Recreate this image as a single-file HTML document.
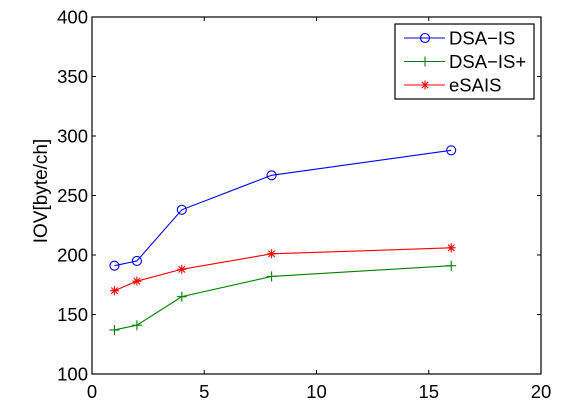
<!DOCTYPE html>
<html><head><meta charset="utf-8"><style>
body{margin:0;background:#fff}
svg{display:block;font-family:"Liberation Sans",sans-serif}
</style></head><body>
<svg id="chart" width="586" height="418" xmlns="http://www.w3.org/2000/svg">
<rect x="0" y="0" width="586" height="418" fill="#fff"/>
<g id="axes"></g>
<g id="series"></g>
<g id="legend"></g>
</svg>
<script>
const xValues=[1,2,4,8,16];
const dsaIS=[191,195,238,267,288];
const dsaISPlus=[137,141,165,182,191];
const esais=[170,178,188,201,206];
const xTicks=[0,5,10,15,20];
const yTicks=[100,150,200,250,300,350,400];
const seriesNames=["DSA\u2212IS","DSA\u2212IS+","eSAIS"];

const L=92,R=541,T=17,B=374;
const sx=v=>L+(v-0)/(20-0)*(R-L);
const sy=v=>B-(v-100)/(400-100)*(B-T);
const NS="http://www.w3.org/2000/svg";
function mk(tag,attrs,parent){const e=document.createElementNS(NS,tag);for(const k in attrs)e.setAttribute(k,attrs[k]);parent.appendChild(e);return e;}
const axes=document.getElementById('axes');
const box=mk('rect',{x:L,y:T,width:R-L,height:B-T,fill:'none',stroke:'#000','stroke-width':1.2},axes);


xTicks.forEach(t=>{
 const x=sx(t);
 mk('line',{x1:x,y1:B,x2:x,y2:B-4,stroke:'#000'},axes);
 mk('line',{x1:x,y1:T,x2:x,y2:T+4,stroke:'#000'},axes);
 const tx=mk('text',{x:x,y:398,'text-anchor':'middle','font-size':18.5},axes);
 tx.textContent=t;
 
 
});
yTicks.forEach(t=>{
 const y=sy(t);
 mk('line',{x1:L,y1:y,x2:L+4,y2:y,stroke:'#000'},axes);
 mk('line',{x1:R,y1:y,x2:R-4,y2:y,stroke:'#000'},axes);
 const tx=mk('text',{x:L-4,y:y+6.5,'text-anchor':'end','font-size':18.5},axes);
 tx.textContent=t;
 
 
});
const yl=mk('text',{x:0,y:0,transform:'translate(47,191) rotate(-90)','text-anchor':'middle','font-size':19},axes);
yl.textContent='IOV[byte/ch]';



function marker(kind,x,y,color,g){
 if(kind==='o'){mk('circle',{cx:x,cy:y,r:4.5,fill:'none',stroke:color,'stroke-width':1.1},g);}
 else if(kind==='+'){mk('path',{d:`M${x-5},${y}H${x+5}M${x},${y-5}V${y+5}`,stroke:color,'stroke-width':1.1},g);}
 else {mk('path',{d:`M${x-4.5},${y}H${x+4.5}M${x},${y-4.5}V${y+4.5}M${x-3.2},${y-3.2}L${x+3.2},${y+3.2}M${x-3.2},${y+3.2}L${x+3.2},${y-3.2}`,stroke:color,'stroke-width':1.1},g);}
}
const sg=document.getElementById('series');
const defs=[[dsaIS,'#0000ff','o','dsa-is-series'],[dsaISPlus,'#008000','+','dsa-is-plus-series'],[esais,'#ff0000','*','esais-series']];
defs.forEach(([vals,col,m,name])=>{
 const g=mk('g',{},sg);
 
 
 const pts=vals.map((v,i)=>sx(xValues[i])+','+sy(v)).join(' ');
 mk('polyline',{points:pts,fill:'none',stroke:col,'stroke-width':1.1},g);
 vals.forEach((v,i)=>marker(m,sx(xValues[i]),sy(v),col,g));
});
const lg=document.getElementById('legend');
mk('rect',{x:395,y:24,width:139,height:75,fill:'#fff',stroke:'#000','stroke-width':1.2},lg);
defs.forEach(([vals,col,m,name],i)=>{
 const y=38+i*23.5;
 const e=mk('g',{},lg);
 
 
 mk('line',{x1:404,y1:y,x2:445,y2:y,stroke:col,'stroke-width':1.1},e);
 marker(m,425,y,col,e);
 const t=mk('text',{x:449,y:y+6.5,'font-size':18.5},e);
 t.textContent=seriesNames[i];
});
</script>
</body></html>
